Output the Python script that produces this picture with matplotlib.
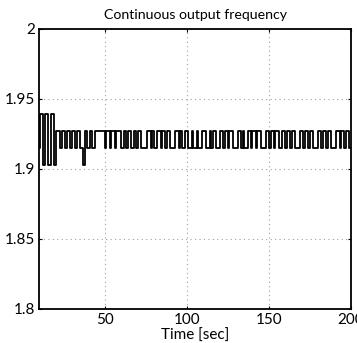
import matplotlib
matplotlib.use("Agg")
import matplotlib.pyplot as plt
import numpy as np

# levels (Hz)
F_HI2 = 1.939
F_HI = 1.927
F_LO = 1.915
F_LO2 = 1.903

# switch times (s) and the level held from that time on
t_switch = [10, 10.6, 12.2, 13.9, 15.5, 17.3, 19.0, 20.6,
            23, 24, 26, 27, 29, 30, 32, 33, 35, 36.8, 38, 39, 41, 42, 44,
            50, 51, 53, 54, 56, 57, 60, 62, 63, 64, 66, 68, 69, 70, 72,
            76, 78, 79, 80, 82, 84, 85, 87, 88, 90, 93, 95, 96, 97, 99,
            101, 103, 104, 106, 107, 109, 112, 114, 115, 116, 118, 120, 122,
            123, 125, 126, 128, 131, 133, 134, 135, 137, 139, 140, 142, 143,
            145, 148, 150, 151, 153, 154, 156, 158, 160, 161, 163, 164, 166,
            169, 171, 172, 174, 175, 177, 180, 182, 183, 185, 186, 188, 191,
            193, 194, 196, 197, 199]
f_level = [F_LO, F_HI2, F_LO2, F_HI2, F_LO2, F_HI2, F_LO2, F_HI,
           F_LO, F_HI, F_LO, F_HI, F_LO, F_HI, F_LO, F_HI, F_LO, F_LO2, F_HI, F_LO, F_HI, F_LO, F_HI,
           F_LO, F_HI, F_LO, F_HI, F_LO, F_HI, F_LO, F_HI, F_LO, F_HI, F_LO, F_HI, F_LO, F_HI, F_LO,
           F_HI, F_LO, F_HI, F_LO, F_HI, F_LO, F_HI, F_LO, F_HI, F_LO, F_HI, F_LO, F_HI, F_LO, F_HI,
           F_LO, F_HI, F_LO, F_HI, F_LO, F_HI, F_LO, F_HI, F_LO, F_HI, F_LO, F_HI, F_LO,
           F_HI, F_LO, F_HI, F_LO, F_HI, F_LO, F_HI, F_LO, F_HI, F_LO, F_HI, F_LO, F_HI,
           F_LO, F_HI, F_LO, F_HI, F_LO, F_HI, F_LO, F_HI, F_LO, F_HI, F_LO, F_HI, F_LO,
           F_HI, F_LO, F_HI, F_LO, F_HI, F_LO, F_HI, F_LO, F_HI, F_LO, F_HI, F_LO, F_HI,
           F_LO, F_HI, F_LO, F_HI, F_LO]

x_ticks = [50, 100, 150, 200]
y_ticks = [1.8, 1.85, 1.9, 1.95, 2]
y_tick_labels = ["1.8", "1.85", "1.9", "1.95", "2"]

plt.rcParams['font.family'] = ['Lato', 'DejaVu Sans']

fig = plt.figure(figsize=(3.57, 3.43), dpi=100)
ax = fig.add_axes([39/357, 1 - 309/343, (351 - 39)/357, (309 - 29)/343])

t = list(t_switch) + [200]
f = list(f_level) + [f_level[-1]]
ax.step(t, f, where='post', color='black', lw=1.3)

ax.set_xlim(10, 200)
ax.set_ylim(1.8, 2.0)
ax.set_xticks(x_ticks)
ax.set_xticklabels([str(v) for v in x_ticks])
ax.set_yticks(y_ticks)
ax.set_yticklabels(y_tick_labels)
ax.grid(True, color='#a0a0a0', linestyle=(0, (1, 3)), lw=0.8)
ax.tick_params(direction='in', length=2, top=True, right=True, labelsize=11, pad=3, color='black')
for s in ax.spines.values():
    s.set_linewidth(1.3)
ax.set_title("Continuous output frequency", fontsize=10.2, pad=7)
ax.set_xlabel("Time [sec]", fontsize=11, labelpad=1)

fig.savefig("out.png", dpi=100)
